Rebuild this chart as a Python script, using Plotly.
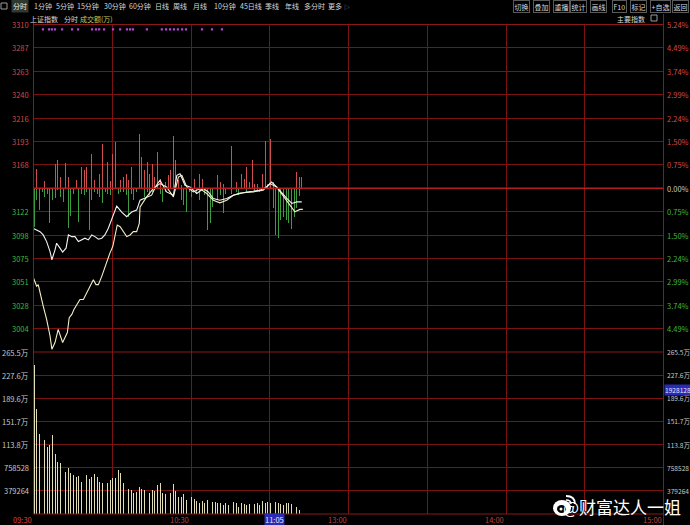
import plotly.graph_objects as go

# ---------------- data ----------------
PRE_CLOSE = 3145.5

# index line (white), minute offsets from 09:30
a_min = [0, 1.2, 2.5, 3.7, 5, 6.3, 7, 8.2, 8.8, 10.1, 11.1, 12.4, 13.3, 14.6, 15.8, 17.1, 18.4, 19.6, 20.9, 22.2,
         23.4, 24.7, 26, 27.2, 28.5, 29.8, 31.7, 33.6, 35.5, 37.4, 39.3, 40.6, 42.5, 45, 46.6, 48.2, 50.7, 53.3, 54.6, 55.8,
         57.7, 59.6, 62.2, 64.7, 66.6, 68.5, 71, 73.6, 76.1, 78.7, 81.2, 83.7, 86.3, 88.8, 90.7, 92.6, 95.2, 96.5, 98.4, 100.3,
         102.2]
a_val = [3105, 3103.5, 3101.8, 3098.5, 3091.8, 3081.8, 3073.5, 3083.5, 3090.2, 3085.2, 3081.2, 3085.2, 3098.5, 3096.8, 3096.8, 3091.8, 3093.5, 3095.2, 3093.5, 3098.5,
         3096.8, 3094.2, 3095.2, 3098.5, 3105.2, 3113.5, 3127.5, 3121.5, 3116.8, 3121.5, 3123.5, 3133.5, 3135.5, 3138.5, 3147.5, 3153.5, 3141.8, 3138.5, 3158.5, 3160.2,
         3148.5, 3146.8, 3140.2, 3145.2, 3141.8, 3135.2, 3133.5, 3135.2, 3138.5, 3140.2, 3141.8, 3142.5, 3143.5, 3146.8, 3151.8, 3146.8, 3138.5, 3135.2, 3130.2, 3131.8,
         3131.8]

# second (non-weighted) line (pale yellow)
b_min = [0, 0.6, 1.2, 1.8, 2.7, 3.7, 5, 6.3, 7, 8.2, 9.4, 10.4, 11.1, 12, 12.9, 13.6, 14.6, 15.4, 16.5, 17.7,
         19, 20.3, 21.5, 22.8, 23.8, 24.7, 26, 27.2, 28.1, 29.1, 30.2, 31, 31.9, 33, 34.2, 35.5, 36.8, 38, 39.3, 40.3,
         40.6, 43.1, 45.6, 48.2, 50.7, 53.3, 55.2, 56.5, 58.4, 60.9, 63.4, 66, 68.5, 71, 73.6, 76.1, 78.7, 83.7, 87.5, 90.1,
         92.6, 95.2, 97.7, 99.6, 101.5, 102.6]
b_val = [3055.2, 3051.8, 3046.8, 3048.5, 3036.8, 3026.8, 3013.5, 2996.8, 2983.5, 2990.2, 3003.5, 2996.8, 2990.2, 2995.2, 3000.2, 3015.2, 3018.5, 3023.5, 3028.5, 3033.5,
         3033.5, 3040.2, 3045.2, 3053.5, 3048.5, 3048.5, 3056.8, 3066.8, 3073.5, 3080.2, 3086.8, 3096.8, 3108.5, 3106.8, 3101.8, 3096.8, 3098.5, 3101.8, 3101.8, 3110.2,
         3126.8, 3136.8, 3145.2, 3150.2, 3146.8, 3136.8, 3156.8, 3158.5, 3146.8, 3141.8, 3145.2, 3140.2, 3133.5, 3130.8, 3133.5, 3138.5, 3140.8, 3141.8, 3143.5, 3150.2,
         3146.8, 3136.8, 3128.5, 3121.8, 3124.2, 3124.2]

# red / green strength bars (index points from the pre-close line)
red_min = [1, 4, 8, 9, 10, 12, 13, 16, 18, 19, 20, 22, 23, 25, 26, 28, 29, 30, 31, 33, 34, 35, 36, 37, 40, 41, 42, 43, 44, 45,
           46, 47, 48, 50, 51, 52, 53, 54, 55, 56, 61, 63, 64, 70, 71, 72, 75, 77, 79, 80, 81, 82, 83, 84, 85, 87, 88, 89, 90, 91,
           100, 101, 102]
red_h = [19.7, 7, 24.7, 28, 11.3, 25.3, 11.3, 8.7, 21.3, 18, 21.3, 34.7, 8, 14.7, 44.7, 26.3, 7, 34.7, 46.3, 8, 11.3, 14.7, 8, 21.3, 54.7, 31.3, 18, 26.3, 14.7, 24.7,
         11.3, 36.3, 9.7, 6.3, 13, 18, 53, 28, 8, 3, 9.7, 14.7, 9.7, 13, 6.3, 4.7, 43, 6.3, 14.7, 9.7, 21.3, 6.3, 28, 4.7, 4.7, 14.7, 48, 4.7, 49.7, 6.3,
         16.3, 11.3, 11.3]
green_min = [0, 1, 2, 3, 4, 5, 6, 7, 8, 9, 10, 11, 13, 14, 15, 17, 18, 19, 20, 21, 22, 23, 24, 25, 26, 27, 28, 29, 30, 32,
             33, 34, 35, 36, 37, 38, 39, 42, 43, 44, 45, 46, 48, 49, 50, 56, 57, 58, 59, 60, 62, 63, 65, 66, 67, 68, 70, 71, 72, 73,
             75, 77, 78, 81, 84, 85, 86, 91, 92, 93, 94, 95, 96, 97, 98, 99, 100, 101]
green_d = [38.7, 12, 22, 3.7, 8.7, 5.3, 35, 12, 10.3, 2, 8.7, 13.7, 40, 28, 5.3, 33.7, 5.3, 7, 3.7, 42, 12, 3.7, 5.3, 8.7, 15.3, 3.7, 5.3, 7, 2, 5.3,
           3.7, 3.7, 7, 28.7, 5.3, 12, 3.7, 8.7, 3.7, 7, 3.7, 2, 5.3, 13.7, 3.7, 12, 17, 23.7, 3.7, 8.7, 5.3, 12, 7, 42, 35.3, 18.7, 12, 7, 25.3, 5.3,
           5.3, 3.7, 7, 3.7, 3.7, 2, 3.7, 20.3, 47, 50.3, 32, 28.7, 32, 34.7, 41.3, 28.7, 20, 8]

# per-minute turnover, starting 09:30
volume = [2434000, 1726000, 1318000, 1209000, 1209000, 1100000, 1127000, 1302000, 991000, 855000,
          828000, 703000, 692000, 752000, 664000, 637000, 610000, 626000, 517000, 555000,
          637000, 566000, 610000, 648000, 599000, 528000, 501000, 583000, 512000, 555000,
          594000, 583000, 719000, 675000, 501000, 419000, 414000, 392000, 338000, 365000,
          447000, 403000, 392000, 447000, 338000, 392000, 376000, 474000, 501000, 349000,
          327000, 310000, 349000, 490000, 381000, 283000, 272000, 327000, 229000, 240000,
          283000, 240000, 212000, 185000, 212000, 174000, 229000, 201000, 201000, 201000,
          185000, 174000, 147000, 174000, 152000, 163000, 201000, 174000, 120000, 185000,
          163000, 147000, 158000, 147000, 158000, 174000, 147000, 218000, 185000, 196000,
          185000, 201000, 191000, 174000, 158000, 147000, 185000, 174000, 158000, 201000,
          120000, 65000]
vol_min = list(range(len(volume)))

# purple marker dots along the top
dot_min = [3.6, 5.9, 7, 8.2, 10.9, 14.7, 17, 22.3, 23.8, 25, 26.9, 30.3, 33, 35.6, 36.8, 37.9,
           43.2, 48.9, 50.5, 52, 53.5, 55, 56.6, 58.1, 64.2, 68, 71.8]
DOT_LEVEL = 3305.5

# axis labels
pct_ticks = [5.24, 4.49, 3.74, 2.99, 2.24, 1.50, 0.75, 0.00, -0.75, -1.50, -2.24, -2.99, -3.74, -4.49]
left_price_labels = ["3310", "3287", "3263", "3240", "3216", "3193", "3168", "",
                     "3122", "3098", "3075", "3051", "3028", "3004"]
right_pct_labels = ["5.24%", "4.49%", "3.74%", "2.99%", "2.24%", "1.50%", "0.75%", "0.00%",
                    "0.75%", "1.50%", "2.24%", "2.99%", "3.74%", "4.49%"]
VOL_STEP = 379264
vol_labels = ["265.5万", "227.6万", "189.6万", "151.7万", "113.8万", "758528", "379264"]
time_labels = ["09:30", "10:30", "13:00", "14:00", "15:00"]
time_pos = [0, 60, 120, 180, 240]
cursor_time, cursor_pos = "11:05", 95
cursor_vol = 1928128

toolbar_left = ["分时", "1分钟", "5分钟", "15分钟", "30分钟", "60分钟", "日线", "周线", "月线",
                "10分钟", "45日线", "季线", "年线", "多分时", "更多"]
toolbar_right = ["切换", "叠加", "重播", "统计", "画线", "F10", "标记", "+自选", "返回"]

# ---------------- layout constants ----------------
W, H = 690, 525
X0, X1 = 33.5, 663.5
P_TOP, P_BOT = 24.5, 352
V_TOP, V_BOT = 352, 514
GRID = "#7a1212"
FONT = "Noto Sans CJK SC, Noto Sans, sans-serif"
RED_T = "#d24a4a"
GRN_T = "#3fb83f"
GRAY_T = "#c8c8c8"
BAR_W = 0.38


def px(x):
    return x / W


def py(y):
    return (H - y) / H


price_lo = PRE_CLOSE * (1 - 0.0524)
price_hi = PRE_CLOSE * (1 + 0.0524)
price_tickvals = [PRE_CLOSE * (1 + p / 100) for p in pct_ticks] + [price_lo]

fig = go.Figure()

# strength bars
fig.add_trace(go.Bar(x=red_min, y=red_h, base=PRE_CLOSE, width=BAR_W, offset=0.05,
                     marker=dict(color="#cf4f4f", line=dict(width=0)), xaxis="x", yaxis="y"))
fig.add_trace(go.Bar(x=green_min, y=[-d for d in green_d], base=PRE_CLOSE, width=BAR_W, offset=0.05,
                     marker=dict(color="#3d9c3d", line=dict(width=0)), xaxis="x", yaxis="y"))
# lines
fig.add_trace(go.Scatter(x=b_min, y=b_val, mode="lines", line=dict(color="#f3efc4", width=1.1),
                         xaxis="x", yaxis="y"))
fig.add_trace(go.Scatter(x=a_min, y=a_val, mode="lines", line=dict(color="#f4f4f4", width=1.1),
                         xaxis="x", yaxis="y"))
# dots
fig.add_trace(go.Scatter(x=dot_min, y=[DOT_LEVEL] * len(dot_min), mode="markers",
                         marker=dict(color="#b048d0", size=2.2, symbol="square"),
                         xaxis="x", yaxis="y"))
# volume
fig.add_trace(go.Bar(x=vol_min, y=volume, width=0.36, offset=0.05,
                     marker=dict(color="#e2ddb2", line=dict(width=0)), xaxis="x2", yaxis="y2"))

xgrid = list(range(0, 241, 30))
fig.update_layout(
    width=W, height=H, margin=dict(l=0, r=0, t=0, b=0),
    paper_bgcolor="black", plot_bgcolor="black", showlegend=False,
    barmode="overlay", bargap=0, hovermode=False,
    xaxis=dict(domain=[px(X0), px(X1)], range=[0, 240], tickvals=xgrid, showticklabels=False,
               showgrid=True, gridcolor=GRID, gridwidth=1, zeroline=False, anchor="y", fixedrange=True),
    yaxis=dict(domain=[py(P_BOT), py(P_TOP)], range=[price_lo, price_hi], tickvals=price_tickvals,
               showticklabels=False, showgrid=True, gridcolor=GRID, gridwidth=1, zeroline=False,
               anchor="x"),
    xaxis2=dict(domain=[px(X0), px(X1)], range=[0, 240], tickvals=xgrid, showticklabels=False,
                showgrid=True, gridcolor=GRID, gridwidth=1, zeroline=False, anchor="y2"),
    yaxis2=dict(domain=[py(V_BOT), py(V_TOP)], range=[0, 7 * VOL_STEP],
                tickvals=[k * VOL_STEP for k in range(8)], showticklabels=False, showgrid=True,
                gridcolor=GRID, gridwidth=1, zeroline=False, anchor="x2"),
)

shapes = []
# borders
for xx, y_a, y_b in [(X0, 22, V_BOT), (X1, 14, H)]:
    shapes.append(dict(type="line", xref="paper", yref="paper", x0=px(xx), x1=px(xx),
                       y0=py(y_a), y1=py(y_b), line=dict(color="#8a1818", width=1)))
for yy in [P_TOP, P_BOT, V_BOT]:
    shapes.append(dict(type="line", xref="paper", yref="paper", x0=px(X0), x1=px(X1),
                       y0=py(yy), y1=py(yy), line=dict(color="#8a1818", width=1)))
# pre-close line
shapes.append(dict(type="line", xref="x", yref="y", x0=0, x1=240, y0=PRE_CLOSE, y1=PRE_CLOSE,
                   line=dict(color="#b41e1e", width=1.3)))
# small square icons
shapes.append(dict(type="rect", xref="paper", yref="paper", x0=px(1), x1=px(7), y0=py(9), y1=py(3),
                   line=dict(color="#9a9a9a", width=1)))
shapes.append(dict(type="rect", xref="paper", yref="paper", x0=px(651), x1=px(657), y0=py(21), y1=py(15),
                   line=dict(color="#9a9a9a", width=1)))
# weibo logo (approximation)
shapes.append(dict(type="circle", xref="paper", yref="paper", x0=px(553), x1=px(571), y0=py(516), y1=py(500),
                   fillcolor="white", line=dict(width=0)))
shapes.append(dict(type="circle", xref="paper", yref="paper", x0=px(557), x1=px(566), y0=py(513), y1=py(505),
                   fillcolor="black", line=dict(width=0)))
shapes.append(dict(type="circle", xref="paper", yref="paper", x0=px(559.5), x1=px(562.5), y0=py(510.5), y1=py(507.5),
                   fillcolor="white", line=dict(width=0)))
shapes.append(dict(type="path", xref="paper", yref="paper",
                   path=f"M {px(566)} {py(496)} Q {px(575)} {py(496)} {px(575)} {py(504)}",
                   line=dict(color="white", width=1.8)))
shapes.append(dict(type="path", xref="paper", yref="paper",
                   path=f"M {px(566)} {py(500)} Q {px(571)} {py(500)} {px(571)} {py(504)}",
                   line=dict(color="white", width=1.5)))
fig.update_layout(shapes=shapes)

ann = []


def txt(text, x, y, color, size=7.5, xanchor="center", xref="paper", yref="paper", **kw):
    ann.append(dict(text=text, x=x, y=y, xref=xref, yref=yref, xanchor=xanchor, yanchor="middle",
                    showarrow=False, font=dict(family=FONT, size=size, color=color), **kw))


# price axis labels
for p, lt, rt in zip(pct_ticks, left_price_labels, right_pct_labels):
    v = PRE_CLOSE * (1 + p / 100)
    col = RED_T if p > 0 else (GRN_T if p < 0 else GRAY_T)
    if lt:
        txt(lt, px(31), v, col, xanchor="right", yref="y")
    txt(rt, px(665), v, col, xanchor="left", yref="y")

# volume axis labels
for k, lab in zip(range(7, 0, -1), vol_labels):
    txt(lab, px(31), k * VOL_STEP, GRAY_T, xanchor="right", yref="y2")
    txt(lab, px(664.5), k * VOL_STEP, GRAY_T, size=6.6, xanchor="left", yref="y2")

# cursor volume box
txt(str(cursor_vol), px(663.5), cursor_vol, "#e8e8ff", size=6.6, xanchor="left", yref="y2",
    bgcolor="#2a2ab4", borderpad=0, yshift=6)

# time labels
for lab, pos in zip(time_labels, time_pos):
    col = "#e03a3a" if pos == 0 else "#b04444"
    txt(lab, pos, py(519.5), col, xanchor="right", xref="x")
txt(cursor_time, cursor_pos, py(519.5), "#e8e8ff", xanchor="right", xref="x", bgcolor="#2a2ab4",
    borderpad=0, xshift=2)

# toolbar
tl_x = [20, 42.5, 65, 87.5, 115, 140, 162, 180, 200, 225, 251, 272, 292, 314, 335]
for lab, xx in zip(toolbar_left, tl_x):
    txt(lab, px(xx), py(6), "#d8d8d8" if lab != "分时" else "#e8f0e8", size=7,
        bgcolor="#303830" if lab == "分时" else None)
txt("▷", px(347), py(6), "#9a9a9a", size=6)
tr_x = [521, 541, 561, 578, 598, 619, 638, 660, 680]
for lab, xx in zip(toolbar_right, tr_x):
    txt(lab, px(xx), py(6.5), "#d8d8d8", size=7, bordercolor="#5a5a5a", borderwidth=1, borderpad=0.5)

# header row
txt("上证指数", px(44), py(19), "#d8d8d8", size=7)
txt("分时", px(71), py(19), "#d8d8d8", size=7)
txt("成交额(万)", px(96), py(19), "#c8c860", size=7)
txt("主要指数", px(631), py(19), "#d8d8d8", size=7)

# watermark
txt("@财富达人一姐", px(622), py(506), "white", size=17)

fig.update_layout(annotations=ann)
fig.write_html("out.html", config={"displayModeBar": False, "staticPlot": True},
               post_script="document.body.style.margin='0';document.body.style.padding='0';"
                           "document.body.style.background='black';")
